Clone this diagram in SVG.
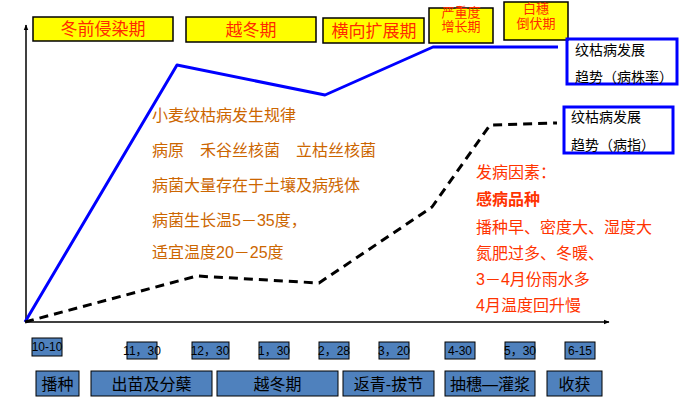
<svg xmlns="http://www.w3.org/2000/svg" width="683" height="415" viewBox="0 0 683 415">
<defs>
<marker id="arr" viewBox="0 0 10 10" refX="9" refY="5" markerWidth="6" markerHeight="6" orient="auto" markerUnits="userSpaceOnUse">
<path d="M0,1 L10,5 L0,9 Z" fill="#000"/>
</marker>
<style>
text{font-family:"Liberation Sans","Noto Sans CJK SC",sans-serif;dominant-baseline:central}
.yb{fill:#FFFF00;stroke:#000;stroke-width:1.5}
.yt{fill:#FF2A00;font-size:17px;text-anchor:middle}
.yts{fill:#FF2A00;font-size:13px;text-anchor:middle}
.bb{fill:none;stroke:#0000FF;stroke-width:3}
.bt{fill:#000;font-size:14px}
.ot{fill:#CC6600;font-size:16px}
.rt{fill:#FF3300;font-size:16px}
.db{fill:#4F81BD;stroke:#000;stroke-width:1}
.dt{fill:#000;font-size:12px;text-anchor:middle}
.st{fill:#000;font-size:16px;text-anchor:middle}
</style>
</defs>
<rect width="683" height="415" fill="#fff"/>
<g id="axes" stroke="#000" stroke-width="1.5" fill="none">
<line x1="26" y1="322" x2="26" y2="25" marker-end="url(#arr)"/>
<line x1="26" y1="322" x2="609" y2="322" marker-end="url(#arr)"/>
</g>
<g id="connectors" fill="none" stroke-linejoin="round">
<polyline id="blue-curve" points="25,322 177,65 325,95 433,47 558,47" stroke="#0000FF" stroke-width="3"/>
<polyline id="black-curve" points="25,322 197,276 319,283 432,207 490,125 557,123" stroke="#000" stroke-width="3" stroke-dasharray="9,6"/>
</g>
<g id="stage-top-1"><rect class="yb" x="33" y="17" width="140" height="24"/><text class="yt" x="103" y="29">冬前侵染期</text></g>
<g id="stage-top-2"><rect class="yb" x="186" y="17" width="130" height="25"/><text class="yt" x="251" y="30">越冬期</text></g>
<g id="stage-top-3"><rect class="yb" x="323" y="18" width="101" height="25"/><text class="yt" x="374" y="31">横向扩展期</text></g>
<g id="stage-top-4"><rect class="yb" x="429" y="8" width="64" height="35"/><text class="yts" x="461" y="12">严重度</text><text class="yts" x="461" y="26.5">增长期</text></g>
<g id="stage-top-5"><rect class="yb" x="504" y="2" width="64" height="38"/><text class="yts" x="536" y="8.5" font-size="14">白穗</text><text class="yts" x="536" y="23.5" font-size="14">倒伏期</text></g>
<g id="legend-blue"><rect class="bb" x="567" y="39" width="110" height="45"/><text class="bt" x="575" y="50">纹枯病发展</text><text class="bt" x="575" y="77">趋势（病株率）</text></g>
<g id="legend-black"><rect class="bb" x="564" y="107" width="109" height="46"/><text class="bt" x="571" y="117">纹枯病发展</text><text class="bt" x="571" y="145">趋势（病指）</text></g>
<g id="rule-text">
<text class="ot" x="152" y="115">小麦纹枯病发生规律</text>
<text class="ot" x="152" y="150">病原　禾谷丝核菌　立枯丝核菌</text>
<text class="ot" x="152" y="185">病菌大量存在于土壤及病残体</text>
<text class="ot" x="152" y="220">病菌生长温5－35度，</text>
<text class="ot" x="152" y="252">适宜温度20－25度</text>
</g>
<g id="factor-text">
<text class="rt" x="476" y="172">发病因素：</text>
<text class="rt" x="476" y="199" font-weight="bold">感病品种</text>
<text class="rt" x="476" y="227">播种早、密度大、湿度大</text>
<text class="rt" x="476" y="253">氮肥过多、冬暖、</text>
<text class="rt" x="476" y="279">3－4月份雨水多</text>
<text class="rt" x="476" y="305">4月温度回升慢</text>
</g>
<g id="date-1"><rect class="db" x="32" y="338" width="30" height="18"/><text class="dt" x="47" y="347">10-10</text></g>
<g id="date-2"><rect class="db" x="127" y="342" width="30" height="17"/><text class="dt" x="142" y="351" font-size="10">11，30</text></g>
<g id="date-3"><rect class="db" x="192" y="342" width="37" height="17"/><text class="dt" x="210" y="351">12，30</text></g>
<g id="date-4"><rect class="db" x="259" y="342" width="30" height="17"/><text class="dt" x="274" y="351" font-size="11">1，30</text></g>
<g id="date-5"><rect class="db" x="319" y="342" width="30" height="17"/><text class="dt" x="334" y="351" font-size="11">2，28</text></g>
<g id="date-6"><rect class="db" x="379" y="342" width="30" height="17"/><text class="dt" x="394" y="351" font-size="11">3，20</text></g>
<g id="date-7"><rect class="db" x="445" y="342" width="30" height="17"/><text class="dt" x="460" y="351">4-30</text></g>
<g id="date-8"><rect class="db" x="505" y="342" width="30" height="17"/><text class="dt" x="520" y="351" font-size="11">5，30</text></g>
<g id="date-9"><rect class="db" x="565" y="342" width="30" height="17"/><text class="dt" x="580" y="351">6-15</text></g>
<g id="phase-1"><rect class="db" x="36" y="371" width="43" height="25"/><text class="st" x="57.5" y="384">播种</text></g>
<g id="phase-2"><rect class="db" x="91" y="371" width="121" height="25"/><text class="st" x="151.5" y="384">出苗及分蘖</text></g>
<g id="phase-3"><rect class="db" x="217" y="371" width="121" height="25"/><text class="st" x="277.5" y="384">越冬期</text></g>
<g id="phase-4"><rect class="db" x="343" y="371" width="91" height="25"/><text class="st" x="388.5" y="384">返青-拔节</text></g>
<g id="phase-5"><rect class="db" x="445" y="371" width="90" height="25"/><text class="st" x="490" y="384">抽穗—灌浆</text></g>
<g id="phase-6"><rect class="db" x="547" y="371" width="55" height="25"/><text class="st" x="574.5" y="384">收获</text></g>
</svg>
